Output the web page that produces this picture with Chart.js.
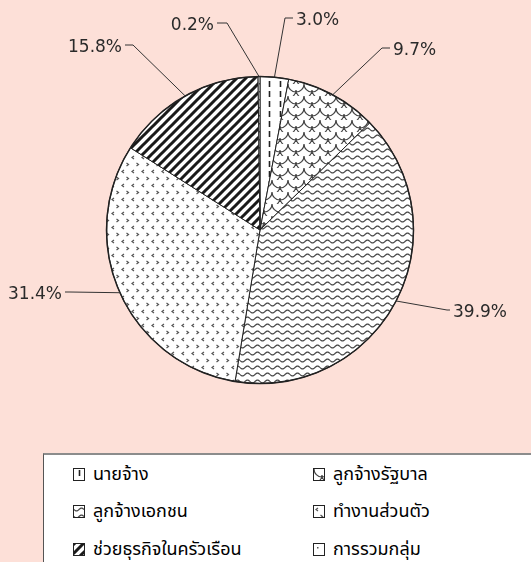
<!DOCTYPE html>
<html>
<head>
<meta charset="utf-8">
<script src="https://cdn.jsdelivr.net/npm/chart.js@4"></script>
<style>
    html, body { margin: 0; padding: 0; }
    body { width: 531px; height: 562px; background: #fde0d8; position: relative; overflow: hidden;
           font-family: Tahoma, 'Noto Sans Thai', 'Noto Sans', 'DejaVu Sans', sans-serif; }
    .chart-wrap { position: absolute; left: 0; top: 0; width: 531px; height: 454px; }
    .legend { position: absolute; left: 43px; top: 453px; right: 0; bottom: 0; background: #fff;
              border-top: 2px solid #8c8c8c; border-left: 1px solid #555; }
    .legend-item { position: absolute; display: flex; align-items: center; font-size: 18px; color: #000; white-space: nowrap; }
    .legend-item canvas { border: 1px solid #222; margin-right: 8px; }
</style>
</head>
<body>
<div class="chart-wrap"><canvas class="js-pie"></canvas></div>
<div class="legend js-legend"></div>
<script>
const labels = ['นายจ้าง', 'ลูกจ้างรัฐบาล', 'ลูกจ้างเอกชน', 'ทำงานส่วนตัว', 'ช่วยธุรกิจในครัวเรือน', 'การรวมกลุ่ม']
const shares = [3.0, 9.7, 39.9, 31.4, 15.8, 0.2]
const patternKinds = ['dash', 'scale', 'wave', 'chevron', 'stripe', 'dot']

// draws one tile of a fill pattern
function makeTile(kind) {
    const c = document.createElement('canvas')
    const t = c.getContext('2d')
    const sizes = { dash: [11, 10], scale: [16, 12], wave: [10, 7], chevron: [10, 14], stripe: [9, 9], dot: [8, 8] }
    c.width = sizes[kind][0]
    c.height = sizes[kind][1]
    t.fillStyle = '#fff'
    t.fillRect(0, 0, c.width, c.height)
    t.strokeStyle = '#444'
    t.lineWidth = 1.2
    t.beginPath()
    if (kind === 'dash') {
        t.strokeStyle = '#222'
        t.lineWidth = 1.6
        t.moveTo(5.5, 1)
        t.lineTo(5.5, 7)
    } else if (kind === 'scale') {
        t.arc(8, 0, 8, 0, Math.PI)
        t.moveTo(8, 6)
        t.arc(0, 6, 8, 0, Math.PI / 2)
        t.moveTo(16, 14)
        t.arc(16, 6, 8, Math.PI / 2, Math.PI)
    } else if (kind === 'wave') {
        for (let x = 0; x <= 10; x += 0.5) {
            const y = 3.5 + 1.4 * Math.sin(2 * Math.PI * x / 10)
            if (x === 0) t.moveTo(x, y)
            else t.lineTo(x, y)
        }
    } else if (kind === 'chevron') {
        t.strokeStyle = '#555'
        t.moveTo(4, 2); t.lineTo(2, 3.5); t.lineTo(4, 5)
        t.moveTo(6.5, 9); t.lineTo(8.5, 10.5); t.lineTo(6.5, 12)
    } else if (kind === 'stripe') {
        t.strokeStyle = '#1a1a1a'
        t.lineWidth = 3
        t.moveTo(-2, 11); t.lineTo(11, -2)
        t.moveTo(-2, 2); t.lineTo(2, -2)
        t.moveTo(7, 11); t.lineTo(11, 7)
    } else {
        t.fillStyle = '#555'
        t.fillRect(3, 3, 1.5, 1.5)
    }
    t.stroke()
    return c
}

const scratch = document.createElement('canvas').getContext('2d')
const fills = patternKinds.map(k => scratch.createPattern(makeTile(k), 'repeat'))

// per-slice placement of the leader line elbow, relative to the pie centre
const labelLayout = [
    { dx: 25, dy: -212, run: 8 },
    { dx: 122, dy: -182, run: 8 },
    { dx: 187, dy: 80, run: 3 },
    { dx: -190, dy: 62, run: 5 },
    { dx: -127, dy: -185, run: 8 },
    { dx: -33, dy: -207, run: 10 },
]

const leaderLabels = {
    id: 'leaderLabels',
    afterDatasetsDraw(chart) {
        const ctx = chart.ctx
        const meta = chart.getDatasetMeta(0)
        ctx.save()
        // heavier outer rim
        const first = meta.data[0].getProps(['x', 'y', 'outerRadius'], true)
        ctx.strokeStyle = '#222'
        ctx.lineWidth = 1.5
        ctx.beginPath()
        ctx.arc(first.x, first.y, first.outerRadius, 0, Math.PI * 2)
        ctx.stroke()

        ctx.strokeStyle = '#333'
        ctx.lineWidth = 1
        ctx.fillStyle = '#2a2a2a'
        ctx.font = '17px "DejaVu Sans", sans-serif'
        ctx.textBaseline = 'middle'
        meta.data.forEach((arc, i) => {
            const p = arc.getProps(['x', 'y', 'startAngle', 'endAngle', 'outerRadius'], true)
            const mid = (p.startAngle + p.endAngle) / 2
            const ex = p.x + Math.cos(mid) * p.outerRadius
            const ey = p.y + Math.sin(mid) * p.outerRadius
            const lay = labelLayout[i]
            const bx = p.x + lay.dx
            const by = p.y + lay.dy
            const side = lay.dx >= 0 ? 1 : -1
            ctx.beginPath()
            ctx.moveTo(ex, ey)
            ctx.lineTo(bx, by)
            ctx.lineTo(bx + side * lay.run, by)
            ctx.stroke()
            ctx.textAlign = side > 0 ? 'left' : 'right'
            ctx.fillText(shares[i].toFixed(1) + '%', bx + side * (lay.run + 3), by + 3)
        })
        ctx.restore()
    }
}

document.addEventListener('DOMContentLoaded', () => {
    const ctx = document.querySelector('.js-pie')
    new Chart(ctx, {
        type: 'pie',
        data: {
            labels: labels,
            datasets: [{
                data: shares,
                backgroundColor: fills,
                borderColor: '#222',
                borderWidth: 1,
                hoverOffset: 0,
            }]
        },
        options: {
            responsive: true,
            maintainAspectRatio: false,
            animation: false,
            events: [],
            layout: { padding: { top: 76, bottom: 70, left: 0, right: 11 } },
            plugins: {
                legend: { display: false },
                tooltip: { enabled: false },
            }
        },
        plugins: [leaderLabels]
    })

    // html legend, two columns
    const legend = document.querySelector('.js-legend')
    const cols = [29, 269]
    const rows = [19, 56, 94]
    labels.forEach((name, i) => {
        const item = document.createElement('div')
        item.className = 'legend-item'
        item.style.left = cols[i % 2] + 'px'
        item.style.top = (rows[Math.floor(i / 2)] - 11) + 'px'
        item.style.height = '22px'
        const icon = document.createElement('canvas')
        icon.width = 10
        icon.height = 11
        const ic = icon.getContext('2d')
        ic.fillStyle = ic.createPattern(makeTile(patternKinds[i]), 'repeat')
        ic.fillRect(0, 0, 10, 11)
        item.appendChild(icon)
        item.appendChild(document.createTextNode(name))
        legend.appendChild(item)
    })
})
</script>
</body>
</html>
